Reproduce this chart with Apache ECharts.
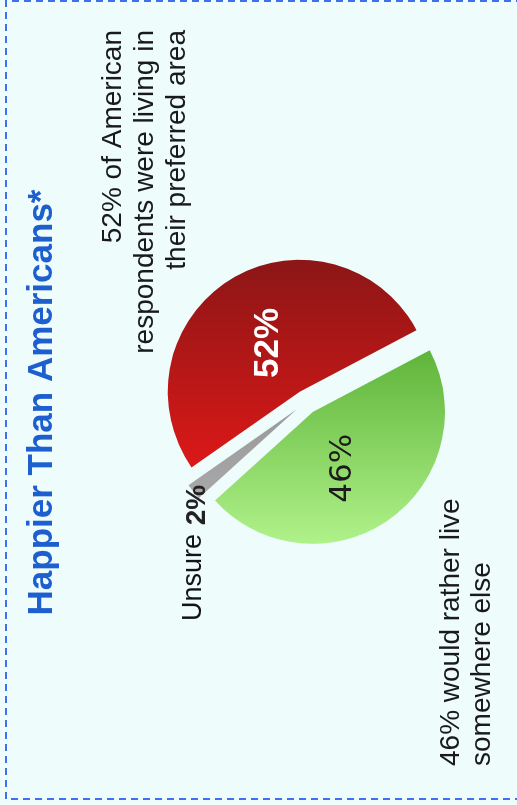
<!DOCTYPE html>
<html>
<head>
<meta charset="utf-8">
<script src="https://cdn.jsdelivr.net/npm/echarts@6/dist/echarts.min.js"></script>
<style>
  html, body { margin:0; padding:0; width:517px; height:805px; overflow:hidden; background:#eefcfc; }
  #chart { position:absolute; left:0; top:0; width:805px; height:517px;
           transform-origin:0 0; transform: translate(0px, 805px) rotate(-90deg); }
</style>
</head>
<body>
<div id="chart"></div>
<script>
// ---- data ----
const titleText = 'Happier Than Americans*';
const categories = ['Living in preferred area', 'Would rather live somewhere else', 'Unsure'];
const values = [52, 46, 2];
const sliceColors = [['#dc1818', '#8c1616'], ['#b0f28a', '#5fb43a'], ['#a8a8a8', '#9a9a9a']];
const noteTop = ['52% of American', 'respondents were living in', 'their preferred area'];
const noteBottom = ['46% would rather live', 'somewhere else'];
const unsureLabel = 'Unsure';

const FONT = '"Liberation Sans", Arial, sans-serif';

const chart = echarts.init(document.getElementById('chart'), null, { renderer: 'canvas' });

const labelStyles = [
  { position: 'inside', fontFamily: FONT,
    formatter: p => '{s| }\n{v|' + p.value + '%}{w| }',
    rich: {
      v: { color: '#ffffff', fontWeight: 'bold', fontSize: 35, fontFamily: FONT },
      s: { fontSize: 8, lineHeight: 10 },
      w: { fontSize: 8, width: 20 }
    } },
  { position: 'inside', fontFamily: FONT,
    formatter: p => '{v|' + p.value + '%}\n{s| }',
    rich: {
      v: { color: '#1c1c1c', fontWeight: 'normal', fontSize: 31, fontFamily: '"DejaVu Sans", sans-serif' },
      s: { fontSize: 8, lineHeight: 20 }
    } },
  { position: 'outside', distanceToLabelLine: -7, fontFamily: FONT,
    formatter: p => '{a|' + unsureLabel + '}  {b|' + p.value + '%}',
    rich: {
      a: { fontSize: 27, color: '#141414', fontFamily: FONT },
      b: { fontSize: 28, color: '#222222', fontWeight: 'bold', fontFamily: FONT, padding: [8, 0, 0, 2] }
    } }
];

const pieData = values.map((v, i) => ({
  name: categories[i],
  value: v,
  selected: true,
  itemStyle: {
    color: new echarts.graphic.LinearGradient(0, 0, 1, 0, [
      { offset: 0, color: sliceColors[i][0] },
      { offset: 1, color: sliceColors[i][1] }
    ])
  },
  label: labelStyles[i]
}));

chart.setOption({
  backgroundColor: '#eefcfc',
  animation: false,
  title: {
    text: titleText,
    left: 'center',
    top: 20,
    textStyle: { color: '#1e5fd0', fontSize: 35, fontWeight: 'bold', fontFamily: FONT }
  },
  graphic: [
    { type: 'rect', shape: { x: 6, y: 6, width: 798, height: 540 },
      style: { fill: 'none', stroke: '#3f70f0', lineWidth: 2, lineDash: [7, 5] }, silent: true },
    { type: 'text', x: 775, y: 145,
      style: { text: noteTop.join('\n'), align: 'right', verticalAlign: 'middle',
               fontSize: 28, lineHeight: 32, fontFamily: FONT, fill: '#1a1a1a' } },
    { type: 'text', x: 39, y: 467,
      style: { text: noteBottom.join('\n'), align: 'left', verticalAlign: 'middle',
               fontSize: 28, lineHeight: 31, fontFamily: FONT, fill: '#1a1a1a' } }
  ],
  series: [{
    type: 'pie',
    center: [403, 306],
    radius: 132,
    startAngle: 125,
    clockwise: true,
    selectedMode: 'multiple',
    selectedOffset: 12,
    avoidLabelOverlap: false,
    emphasis: { disabled: true },
    labelLine: { show: false, length: 0, length2: 0 },
    data: pieData
  }]
});
</script>
</body>
</html>
